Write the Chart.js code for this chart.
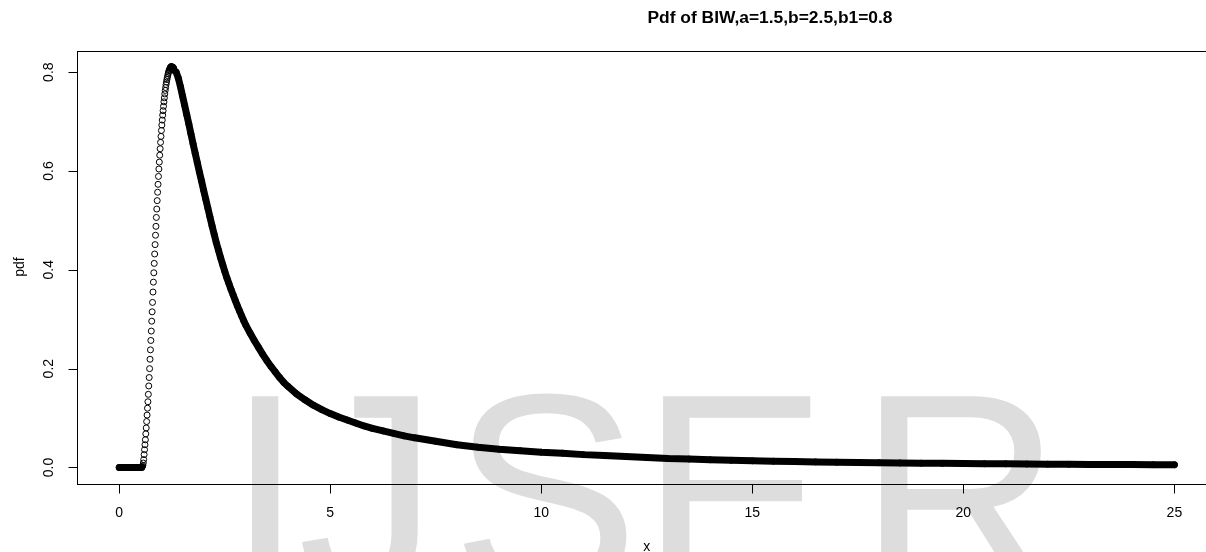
<!DOCTYPE html>
<html lang="en">
<head>
<meta charset="UTF-8">
<title>Pdf of BIW</title>
<script src="https://cdn.jsdelivr.net/npm/chart.js"></script>
<style>
  html, body { margin: 0; padding: 0; background: #fff; overflow: hidden; }
  #wrap { width: 1230px; height: 552px; position: relative; }
</style>
</head>
<body>
<div id="wrap"><canvas id="chartPdf"></canvas></div>
<script>
// values (x, pdf)
const pdfX = [
  0, 0.1, 0.2, 0.3, 0.4, 0.5,
  0.51, 0.52, 0.53, 0.54, 0.55, 0.56, 0.57, 0.58, 0.59, 0.60,
  0.61, 0.62, 0.63, 0.64, 0.65, 0.66, 0.67, 0.68, 0.69, 0.70,
  0.71, 0.72, 0.73, 0.74, 0.75, 0.76, 0.77, 0.78, 0.79, 0.80,
  0.81, 0.82, 0.83, 0.84, 0.85, 0.86, 0.87, 0.88, 0.89, 0.90,
  0.91, 0.92, 0.93, 0.94, 0.95, 0.96, 0.97, 0.98, 0.99, 1.00,
  1.01, 1.02, 1.03, 1.04, 1.05, 1.06, 1.07, 1.08, 1.09, 1.10,
  1.11, 1.12, 1.13, 1.14, 1.15, 1.16, 1.17, 1.18, 1.19, 1.20,
  1.21, 1.22, 1.23, 1.24, 1.25, 1.26, 1.27, 1.28, 1.29, 1.30,
  1.35, 1.40, 1.45, 1.50, 1.55, 1.60, 1.65, 1.70, 1.75, 1.80,
  1.85, 1.90, 1.95, 2.00, 2.05, 2.10, 2.15, 2.20, 2.25, 2.30,
  2.35, 2.40, 2.45, 2.50, 2.55, 2.60, 2.65, 2.70, 2.75, 2.80,
  2.85, 2.90, 2.95, 3.00,
  3.1, 3.2, 3.3, 3.4, 3.5, 3.6, 3.7, 3.8, 3.9, 4.0,
  4.2, 4.4, 4.6, 4.8, 5.0, 5.2, 5.4, 5.6, 5.8, 6.0,
  6.25, 6.5, 6.75, 7.0,
  7.5, 8.0, 8.5, 9.0, 9.5, 10.0, 10.5, 11.0, 11.5, 12.0,
  12.5, 13.0, 13.5, 14.0, 14.5, 15.0, 15.5, 16.0, 16.5, 17.0,
  17.5, 18.0, 18.5, 19.0, 19.5, 20.0, 20.5, 21.0, 21.5, 22.0,
  22.5, 23.0, 23.5, 24.0, 24.5, 25.0
];
const pdfY = [
  0, 0, 0, 0, 0, 0,
  0.000, 0.000, 0.0003, 0.001, 0.002, 0.004, 0.009, 0.016, 0.026, 0.036,
  0.046, 0.056, 0.068, 0.080, 0.093, 0.106, 0.120, 0.133, 0.148, 0.165,
  0.182, 0.200, 0.219, 0.238, 0.257, 0.276, 0.296, 0.315, 0.334, 0.355,
  0.375, 0.394, 0.413, 0.432, 0.451, 0.470, 0.488, 0.506, 0.523, 0.540,
  0.557, 0.573, 0.589, 0.604, 0.618, 0.632, 0.645, 0.658, 0.670, 0.682,
  0.693, 0.703, 0.713, 0.722, 0.731, 0.740, 0.748, 0.756, 0.763, 0.769,
  0.775, 0.780, 0.785, 0.789, 0.793, 0.797, 0.800, 0.803, 0.805, 0.807,
  0.809, 0.810, 0.811, 0.811, 0.811, 0.810, 0.809, 0.808, 0.806, 0.804,
  0.800, 0.788, 0.771, 0.752, 0.733, 0.714, 0.695, 0.675, 0.655, 0.636,
  0.617, 0.598, 0.580, 0.561, 0.543, 0.525, 0.507, 0.489, 0.472, 0.455,
  0.440, 0.425, 0.411, 0.397, 0.384, 0.372, 0.360, 0.349, 0.338, 0.327,
  0.317, 0.307, 0.297, 0.288,
  0.272, 0.257, 0.243, 0.229, 0.216, 0.204, 0.193, 0.182, 0.172, 0.164,
  0.149, 0.137, 0.126, 0.117, 0.109, 0.102, 0.096, 0.090, 0.084, 0.079,
  0.074, 0.069, 0.064, 0.060,
  0.053, 0.046, 0.041, 0.037, 0.034, 0.031, 0.029, 0.026, 0.024, 0.022,
  0.020, 0.018, 0.017, 0.0155, 0.0145, 0.0135, 0.0127, 0.012, 0.0113, 0.0107,
  0.0101, 0.0096, 0.0091, 0.0087, 0.0083, 0.0079, 0.0076, 0.0073, 0.0070, 0.0067,
  0.0064, 0.0062, 0.0060, 0.0058, 0.0056, 0.0054
];
const xTicks = [0, 5, 10, 15, 20, 25];
const xTickLabels = ['0', '5', '10', '15', '20', '25'];
const yTicks = [0, 0.2, 0.4, 0.6, 0.8];
const yTickLabels = ['0.0', '0.2', '0.4', '0.6', '0.8'];
const titleText = 'Pdf of BIW,a=1.5,b=2.5,b1=0.8';
const xLabel = 'x';
const yLabel = 'pdf';
const watermark = ['I', 'J', 'S', 'E', 'R'];

// R style 4% axis extension
const xMin = Math.min(...pdfX), xMax = Math.max(...pdfX);
const yMin = Math.min(...pdfY), yMax = Math.max(...pdfY);
const xPad = 0.04 * (xMax - xMin), yPad = 0.04 * (yMax - yMin);

const pts = pdfX.map((x, i) => ({ x: x, y: pdfY[i] }));
// where the circles pile up into a solid band
const flatPts = pts.filter(p => p.x <= 0.53);
const tailPts = pts.filter(p => p.x >= 1.22);

const FONT = '"Liberation Sans", Arial, Helvetica, sans-serif';

const rPlot = {
  id: 'rPlot',
  beforeDraw(chart) {
    const ctx = chart.ctx;
    ctx.save();
    ctx.fillStyle = '#fff';
    ctx.fillRect(0, 0, chart.width, chart.height);
    // IJSER watermark
    ctx.font = '282px ' + FONT;
    ctx.fillStyle = '#dddddd';
    ctx.textAlign = 'left';
    ctx.textBaseline = 'alphabetic';
    const lefts = [248, 302, 460, 662, 880];
    const asc = ctx.measureText('E').actualBoundingBoxAscent;
    watermark.forEach((ch, i) => {
      const m = ctx.measureText(ch);
      ctx.fillText(ch, lefts[i] + m.actualBoundingBoxLeft, 392 + asc);
    });
    ctx.restore();
  },
  afterDraw(chart) {
    const ctx = chart.ctx;
    const a = chart.chartArea;
    const xs = chart.scales.x, ys = chart.scales.y;
    ctx.save();
    ctx.strokeStyle = '#000';
    ctx.fillStyle = '#000';
    ctx.lineWidth = 1;
    // box
    ctx.strokeRect(Math.round(a.left) + 0.5, Math.round(a.top) + 0.5,
      Math.round(a.right - a.left), Math.round(a.bottom - a.top));
    const bottom = Math.round(a.bottom) + 0.5;
    const left = Math.round(a.left) + 0.5;
    // x axis ticks
    ctx.beginPath();
    xTicks.forEach(v => {
      const px = Math.round(xs.getPixelForValue(v)) + 0.5;
      ctx.moveTo(px, bottom);
      ctx.lineTo(px, bottom + 9);
    });
    // y axis ticks
    yTicks.forEach(v => {
      const py = Math.round(ys.getPixelForValue(v)) + 0.5;
      ctx.moveTo(left, py);
      ctx.lineTo(left - 9, py);
    });
    ctx.stroke();
    ctx.font = '14px ' + FONT;
    ctx.textAlign = 'center';
    ctx.textBaseline = 'alphabetic';
    xTicks.forEach((v, i) => {
      ctx.fillText(xTickLabels[i], xs.getPixelForValue(v), a.bottom + 33.2);
    });
    yTicks.forEach((v, i) => {
      ctx.save();
      ctx.translate(a.left - 24.3, ys.getPixelForValue(v));
      ctx.rotate(-Math.PI / 2);
      ctx.fillText(yTickLabels[i], 0, 0);
      ctx.restore();
    });
    // axis titles
    ctx.fillText(xLabel, (a.left + a.right) / 2, 550.5);
    ctx.save();
    ctx.translate(24, (a.top + a.bottom) / 2);
    ctx.rotate(-Math.PI / 2);
    ctx.fillText(yLabel, 0, 0);
    ctx.restore();
    // main title
    ctx.font = 'bold 17.4px ' + FONT;
    ctx.fillText(titleText, 770, 23.3);
    ctx.restore();
  }
};

new Chart(document.getElementById('chartPdf').getContext('2d'), {
  type: 'scatter',
  data: {
    datasets: [
      {
        label: 'pdf',
        data: pts,
        showLine: false,
        pointStyle: 'circle',
        pointRadius: 3,
        pointBorderWidth: 1,
        pointBorderColor: '#000',
        pointBackgroundColor: 'rgba(0,0,0,0)'
      },
      {
        label: 'flat',
        data: flatPts,
        showLine: true,
        borderColor: '#000',
        borderWidth: 7,
        borderCapStyle: 'round',
        borderJoinStyle: 'round',
        pointRadius: 0
      },
      {
        label: 'tail',
        data: tailPts,
        showLine: true,
        borderColor: '#000',
        borderWidth: 7,
        borderCapStyle: 'round',
        borderJoinStyle: 'round',
        pointRadius: 0
      }
    ]
  },
  options: {
    responsive: true,
    maintainAspectRatio: false,
    animation: false,
    events: [],
    layout: { padding: { left: 77, top: 50.7, right: 13.4, bottom: 68.5 } },
    plugins: { legend: { display: false }, title: { display: false }, tooltip: { enabled: false } },
    scales: {
      x: { type: 'linear', min: xMin - xPad, max: xMax + xPad, display: false },
      y: { type: 'linear', min: yMin - yPad, max: yMax + yPad, display: false }
    }
  },
  plugins: [rPlot]
});
</script>
</body>
</html>
